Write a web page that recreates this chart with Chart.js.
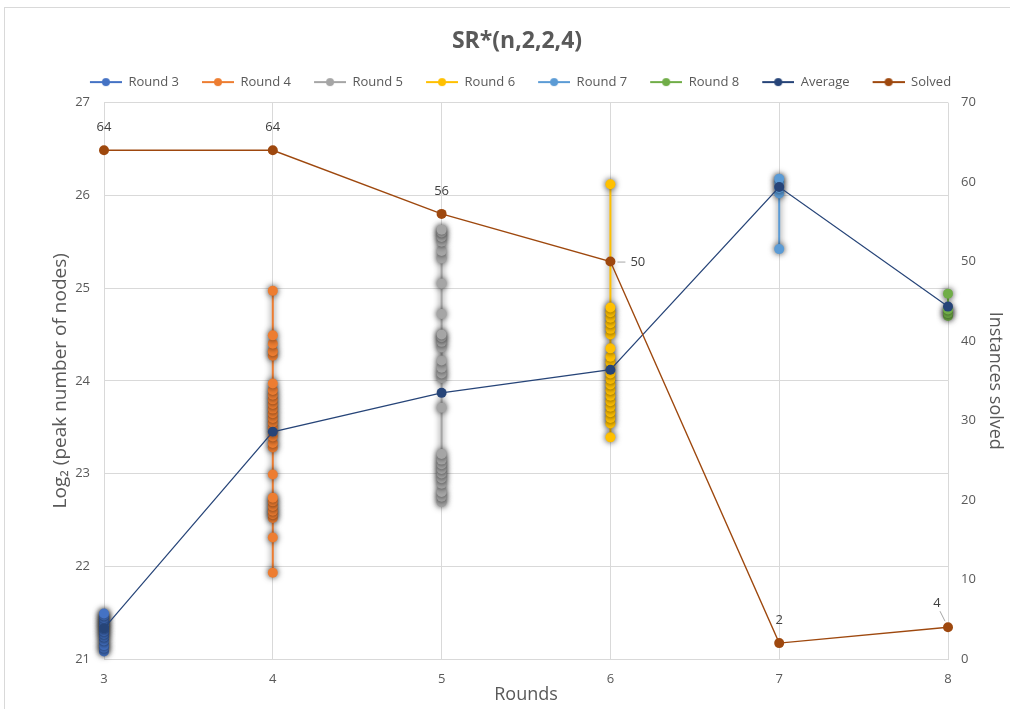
<!DOCTYPE html>
<html>
<head>
<meta charset="utf-8">
<title>SR*(n,2,2,4)</title>
<script src="https://cdn.jsdelivr.net/npm/chart.js@4.4.1/dist/chart.umd.min.js"></script>
<style>
  html, body { margin: 0; padding: 0; background: #ffffff; }
  #wrap { width: 1010px; height: 709px; position: relative; }
</style>
</head>
<body>
<div id="wrap"><canvas id="chart" width="1010" height="709"></canvas></div>
<script>
// Rounds on the x axis
const rounds = [3, 4, 5, 6, 7, 8];

// log2(peak number of nodes) of every solved instance, per round
const round3 = [21.08, 21.12, 21.15, 21.20, 21.24, 21.27, 21.30, 21.33, 21.36, 21.38, 21.41, 21.44, 21.47, 21.49];
const round4 = [21.93, 22.31, 22.52, 22.56, 22.60, 22.65, 22.70, 22.74, 22.99, 23.28, 23.33, 23.40, 23.45,
                23.50, 23.55, 23.60, 23.65, 23.70, 23.75, 23.80, 23.85, 23.90, 23.97, 24.27, 24.32, 24.40, 24.49, 24.97];
const round5 = [22.69, 22.75, 22.80, 22.89, 22.95, 23.00, 23.05, 23.10, 23.15, 23.21, 23.71, 24.03, 24.08,
                24.14, 24.22, 24.36, 24.42, 24.47, 24.50, 24.72, 25.05, 25.32, 25.40, 25.50, 25.55, 25.60, 25.63];
const round6 = [23.39, 23.54, 23.60, 23.66, 23.72, 23.78, 23.84, 23.90, 23.96, 24.02, 24.08, 24.14, 24.20,
                24.26, 24.35, 24.50, 24.56, 24.62, 24.68, 24.74, 24.79, 26.12];
const round7 = [25.42, 26.02, 26.08, 26.14, 26.18];
const round8 = [24.70, 24.73, 24.77, 24.94];

// Average log2(peak nodes) per round, and number of instances solved
const averagePeak = [21.33, 23.45, 23.87, 24.12, 26.09, 24.80];
const solvedCounts = [64, 64, 56, 50, 2, 4];

// Axis tick values
const leftTicks = [21, 22, 23, 24, 25, 26, 27];
const rightTicks = [0, 10, 20, 30, 40, 50, 60, 70];

const seriesNames = ['Round 3', 'Round 4', 'Round 5', 'Round 6', 'Round 7', 'Round 8', 'Average', 'Solved'];
const seriesColors = ['#4472C4', '#ED7D31', '#A5A5A5', '#FFC000', '#5B9BD5', '#70AD47', '#264478', '#9E480E'];
const roundValues = [round3, round4, round5, round6, round7, round8];

const TEXT = '#595959';
const GRID = '#d9d9d9';
const FONT = '"Open Sans", sans-serif';

// Legend swatch: short line with a dot in the middle
function makeSwatch(color) {
  const c = document.createElement('canvas');
  c.width = 39; c.height = 14;
  const g = c.getContext('2d');
  g.strokeStyle = color; g.lineWidth = 2;
  g.beginPath(); g.moveTo(7, 7); g.lineTo(39, 7); g.stroke();
  g.fillStyle = color;
  g.beginPath(); g.arc(23, 7, 4, 0, Math.PI * 2); g.fill();
  return c;
}
const swatches = seriesColors.map(makeSwatch);

const datasets = roundValues.map((vals, i) => ({
  label: seriesNames[i],
  data: vals.map(v => ({ x: rounds[i], y: v })),
  borderColor: seriesColors[i],
  backgroundColor: seriesColors[i],
  pointBackgroundColor: seriesColors[i],
  pointBorderColor: seriesColors[i],
  pointRadius: 5,
  pointBorderWidth: 0,
  borderWidth: 2,
  yAxisID: 'y',
  clip: false,
  order: 2 + i
}));

datasets.push({
  label: seriesNames[6],
  data: rounds.map((r, i) => ({ x: r, y: averagePeak[i] })),
  borderColor: seriesColors[6],
  backgroundColor: seriesColors[6],
  pointBackgroundColor: seriesColors[6],
  pointRadius: 5,
  pointBorderWidth: 0,
  borderWidth: 1.2,
  yAxisID: 'y',
  clip: false,
  order: 1
});

datasets.push({
  label: seriesNames[7],
  data: rounds.map((r, i) => ({ x: r, y: solvedCounts[i] })),
  borderColor: seriesColors[7],
  backgroundColor: seriesColors[7],
  pointBackgroundColor: seriesColors[7],
  pointRadius: 5,
  pointBorderWidth: 0,
  borderWidth: 1.4,
  yAxisID: 'y1',
  clip: false,
  order: 0
});

// Soft dark halo around the per-round markers
const markerShadow = {
  id: 'markerShadow',
  beforeDatasetDraw(chart, args) {
    if (args.index < 6) {
      const ctx = chart.ctx;
      ctx.save();
      ctx.shadowColor = 'rgba(0,0,0,0.75)';
      ctx.shadowBlur = 6;
      ctx.shadowOffsetX = 0;
      ctx.shadowOffsetY = 0;
    }
  },
  afterDatasetDraw(chart, args) {
    if (args.index < 6) chart.ctx.restore();
  }
};

// Extra gap between the legend row and the plot area
const legendGap = {
  id: 'legendGap',
  afterInit(chart) {
    const lg = chart.legend;
    if (!lg) return;
    const baseFit = lg.fit.bind(lg);
    lg.fit = function () { baseFit(); this.height += 4; };
  }
};

// Frame and white background
const frame = {
  id: 'frame',
  beforeDraw(chart) {
    const ctx = chart.ctx;
    ctx.save();
    ctx.fillStyle = '#ffffff';
    ctx.fillRect(0, 0, chart.width, chart.height);
    ctx.strokeStyle = GRID;
    ctx.lineWidth = 1;
    ctx.strokeRect(4.5, 7.5, chart.width + 10, chart.height + 10);
    ctx.restore();
  }
};

// Value labels on the "Solved" series
const labelPlacement = ['above', 'above', 'above', 'right', 'above', 'aboveLeft'];
const solvedLabels = {
  id: 'solvedLabels',
  afterDatasetsDraw(chart) {
    const idx = 7;
    const meta = chart.getDatasetMeta(idx);
    const ctx = chart.ctx;
    ctx.save();
    ctx.font = '13px ' + FONT;
    ctx.fillStyle = '#404040';
    ctx.strokeStyle = '#a6a6a6';
    ctx.lineWidth = 1;
    ctx.textBaseline = 'middle';
    meta.data.forEach((pt, i) => {
      const text = String(chart.data.datasets[idx].data[i].y);
      const place = labelPlacement[i];
      if (place === 'right') {
        ctx.beginPath(); ctx.moveTo(pt.x + 7, pt.y + 0.5); ctx.lineTo(pt.x + 15, pt.y + 0.5); ctx.stroke();
        ctx.textAlign = 'left';
        ctx.fillText(text, pt.x + 20, pt.y + 1);
      } else if (place === 'aboveLeft') {
        ctx.beginPath(); ctx.moveTo(pt.x - 8, pt.y - 16); ctx.lineTo(pt.x - 3, pt.y - 6); ctx.stroke();
        ctx.textAlign = 'center';
        ctx.fillText(text, pt.x - 11, pt.y - 24);
      } else {
        ctx.textAlign = 'center';
        ctx.fillText(text, pt.x, pt.y - 23);
      }
    });
    ctx.restore();
  }
};

new Chart(document.getElementById('chart'), {
  type: 'line',
  data: { datasets },
  plugins: [frame, legendGap, markerShadow, solvedLabels],
  options: {
    responsive: false,
    animation: false,
    events: [],
    layout: { padding: { left: 24, right: 0, top: 0, bottom: 0 } },
    plugins: {
      tooltip: { enabled: false },
      title: {
        display: true,
        text: 'SR*(n,2,2,4)',
        color: TEXT,
        font: { family: FONT, size: 23, weight: 'bold' },
        padding: { top: 28, bottom: 4 }
      },
      legend: {
        display: true,
        position: 'top',
        labels: {
          usePointStyle: true,
          pointStyleWidth: 39,
          boxHeight: 13,
          padding: 16,
          color: TEXT,
          font: { family: FONT, size: 13 },
          generateLabels(chart) {
            const items = Chart.defaults.plugins.legend.labels.generateLabels(chart);
            items.sort((a, b) => a.datasetIndex - b.datasetIndex);
            items.forEach(it => { it.pointStyle = swatches[it.datasetIndex]; });
            return items;
          }
        }
      }
    },
    scales: {
      x: {
        type: 'linear',
        min: rounds[0],
        max: rounds[rounds.length - 1],
        afterBuildTicks(axis) { axis.ticks = rounds.map(v => ({ value: v })); },
        grid: { color: GRID, drawTicks: false },
        border: { color: GRID },
        ticks: { color: TEXT, padding: 12, font: { family: FONT, size: 13 } },
        title: {
          display: true, text: 'Rounds', color: TEXT,
          font: { family: FONT, size: 18 },
          padding: { top: 0, bottom: 3 }
        },
        afterFit(axis) { axis.height = 50; }
      },
      y: {
        type: 'linear',
        position: 'left',
        min: leftTicks[0],
        max: leftTicks[leftTicks.length - 1],
        afterBuildTicks(axis) { axis.ticks = leftTicks.map(v => ({ value: v })); },
        grid: { color: GRID, drawTicks: false },
        border: { display: false },
        ticks: { color: TEXT, padding: 14, font: { family: FONT, size: 13 } },
        title: {
          display: true, text: 'Log\u2082 (peak number of nodes)', color: TEXT,
          font: { family: FONT, size: 19 },
          padding: { top: 25, bottom: 0 }
        },
        afterFit(axis) { axis.width = 80; }
      },
      y1: {
        type: 'linear',
        position: 'right',
        min: rightTicks[0],
        max: rightTicks[rightTicks.length - 1],
        afterBuildTicks(axis) { axis.ticks = rightTicks.map(v => ({ value: v })); },
        grid: { display: false, drawTicks: false },
        border: { display: false },
        ticks: { color: TEXT, padding: 13, font: { family: FONT, size: 13 } },
        title: {
          display: true, text: 'Instances solved', color: TEXT,
          font: { family: FONT, size: 18 },
          padding: { top: 4, bottom: 0 }
        },
        afterFit(axis) { axis.width = 62; }
      }
    }
  }
});
</script>
</body>
</html>
